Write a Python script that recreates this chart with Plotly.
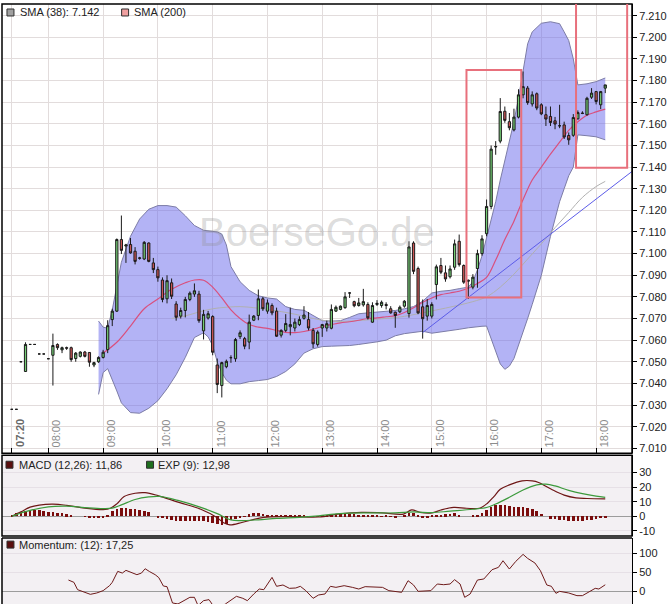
import plotly.graph_objects as go
import pandas as pd

DAY = "2011-05-06"

# ---------------- 5-minute candles, first slot 07:20 ----------------
first_slot = "07:20"
opens = [
    7.028, 7.028, 7.050, 7.0455, 7.058, 7.058, 7.0536, 7.0536,
    7.0514, 7.053, 7.058, 7.0555, 7.0565, 7.0565, 7.0515, 7.0525, 7.0545, 7.0543, 7.0485, 7.0500,
    7.0520, 7.0556, 7.0695, 7.0734, 7.1065, 7.1035, 7.1042, 7.1011, 7.0978, 7.0975, 7.1049, 7.0957,
    7.0926, 7.0878, 7.0791, 7.0865, 7.0767, 7.0711, 7.0737, 7.0788, 7.0813, 7.0813, 7.0643, 7.0702,
    7.0709, 7.0485, 7.0390, 7.0477, 7.0519, 7.0514, 7.0616, 7.0607, 7.0591, 7.0692, 7.0714, 7.0791,
    7.0734, 7.0760, 7.0734, 7.0623, 7.0645, 7.0662, 7.0656, 7.0672, 7.0701, 7.0695, 7.0645, 7.0580,
    7.0656, 7.0656, 7.0655, 7.0734, 7.0742, 7.0750, 7.0818, 7.0778, 7.0760, 7.0763, 7.0765, 7.0683,
    7.0765, 7.0760, 7.0765, 7.0745, 7.0729, 7.0731, 7.0757, 7.0723, 7.1049, 7.0931, 7.0754, 7.0711,
    7.0711, 7.0857, 7.0945, 7.0911, 7.0893, 7.0937, 7.1057, 7.0945, 7.0877, 7.0845, 7.0931, 7.1000,
    7.1092, 7.1218, 7.1493, 7.1520, 7.1658, 7.1610, 7.1572, 7.1631, 7.1734, 7.1765, 7.1692, 7.1739,
    7.1688, 7.1642, 7.1634, 7.1614, 7.1591, 7.1595, 7.1546, 7.1547, 7.1623, 7.1650, 7.1642, 7.1723,
    7.1749, 7.1688, 7.1765,
]
highs = [
    7.028, 7.028, 7.050, 7.059, 7.058, 7.058, 7.0536, 7.0536,
    7.0514, 7.063, 7.0585, 7.057, 7.057, 7.057, 7.0545, 7.0548, 7.0550, 7.0545, 7.0500, 7.0525,
    7.0555, 7.0692, 7.0745, 7.1070, 7.1176, 7.1045, 7.1072, 7.1030, 7.0985, 7.1058, 7.1052, 7.0980,
    7.0940, 7.0890, 7.0900, 7.0885, 7.0780, 7.0750, 7.0800, 7.0825, 7.0862, 7.0828, 7.0740, 7.0735,
    7.0715, 7.0515, 7.0500, 7.0510, 7.0530, 7.0610, 7.0645, 7.0615, 7.0718, 7.0716, 7.0834, 7.0800,
    7.0788, 7.0770, 7.0750, 7.0650, 7.0720, 7.0750, 7.0700, 7.0710, 7.0757, 7.0730, 7.0656, 7.0645,
    7.0675, 7.0690, 7.0765, 7.0760, 7.0760, 7.0822, 7.0820, 7.0782, 7.0795, 7.0837, 7.0775, 7.0775,
    7.0785, 7.0783, 7.0775, 7.0757, 7.0732, 7.0760, 7.0785, 7.1057, 7.1057, 7.0940, 7.0788, 7.0790,
    7.0775, 7.0949, 7.0980, 7.0945, 7.0945, 7.1065, 7.1088, 7.0950, 7.0880, 7.0905, 7.1018, 7.1085,
    7.1250, 7.1500, 7.1520, 7.1719, 7.1680, 7.1650, 7.1670, 7.1760, 7.1842, 7.1775, 7.1750, 7.1745,
    7.1695, 7.1680, 7.1680, 7.1632, 7.1688, 7.1610, 7.1560, 7.1645, 7.1662, 7.1658, 7.1725, 7.1765,
    7.1752, 7.1752, 7.1780,
]
lows = [
    7.028, 7.028, 7.050, 7.0455, 7.058, 7.058, 7.0536, 7.0536,
    7.0514, 7.039, 7.0555, 7.054, 7.0555, 7.050, 7.050, 7.0520, 7.0520, 7.0477, 7.0475, 7.0495,
    7.0515, 7.0540, 7.0665, 7.0730, 7.0998, 7.0957, 7.1000, 7.0950, 7.0972, 7.0970, 7.0960, 7.0910,
    7.0870, 7.0775, 7.0770, 7.0790, 7.0690, 7.0700, 7.0705, 7.0780, 7.0800, 7.0680, 7.0603, 7.0695,
    7.0530, 7.0355, 7.0335, 7.0470, 7.0495, 7.0500, 7.0605, 7.0558, 7.0558, 7.0688, 7.0692, 7.0735,
    7.0722, 7.0715, 7.0615, 7.0612, 7.0637, 7.0622, 7.0640, 7.0665, 7.0695, 7.0645, 7.0563, 7.0570,
    7.0615, 7.0640, 7.0650, 7.0730, 7.0738, 7.0745, 7.0795, 7.0752, 7.0755, 7.0755, 7.0695, 7.0680,
    7.0758, 7.0750, 7.0742, 7.0722, 7.0657, 7.0725, 7.0750, 7.0704, 7.0905, 7.0720, 7.0607, 7.0690,
    7.0700, 7.0788, 7.0905, 7.0870, 7.0885, 7.0925, 7.0940, 7.0860, 7.0790, 7.0835, 7.0842, 7.0990,
    7.1080, 7.1205, 7.1457, 7.1510, 7.1605, 7.1570, 7.1565, 7.1625, 7.1718, 7.1688, 7.1680, 7.1663,
    7.1640, 7.1590, 7.1590, 7.1575, 7.1580, 7.1530, 7.1503, 7.1540, 7.1620, 7.1645, 7.1638, 7.1715,
    7.1690, 7.1668, 7.1742,
]
closes = [
    7.028, 7.028, 7.050, 7.058, 7.058, 7.058, 7.0536, 7.0536,
    7.0514, 7.0575, 7.0565, 7.0565, 7.0563, 7.051, 7.054, 7.0545, 7.0525, 7.0498, 7.0496, 7.0520,
    7.0544, 7.0667, 7.0734, 7.1065, 7.1015, 7.1040, 7.1003, 7.0964, 7.0980, 7.1052, 7.0964, 7.0926,
    7.0888, 7.0788, 7.0875, 7.0803, 7.0706, 7.0737, 7.0788, 7.0817, 7.0828, 7.0690, 7.0719, 7.0722,
    7.0544, 7.0395, 7.0496, 7.0502, 7.0519, 7.0603, 7.0634, 7.0572, 7.0683, 7.0711, 7.0791, 7.0745,
    7.0772, 7.0726, 7.0618, 7.0645, 7.0677, 7.0672, 7.0683, 7.0695, 7.0716, 7.0656, 7.0583, 7.0637,
    7.0672, 7.0676, 7.0742, 7.0752, 7.0757, 7.0800, 7.0818, 7.0759, 7.0772, 7.0778, 7.0703, 7.0760,
    7.0770, 7.0775, 7.0760, 7.0726, 7.0714, 7.0752, 7.0780, 7.1031, 7.0918, 7.0726, 7.0699, 7.0760,
    7.0765, 7.0939, 7.0914, 7.0883, 7.0929, 7.1045, 7.0949, 7.0868, 7.0873, 7.0891, 7.1000, 7.1068,
    7.1218, 7.1483, 7.1495, 7.1657, 7.1616, 7.1582, 7.1631, 7.1734, 7.1772, 7.1698, 7.1734, 7.1673,
    7.1646, 7.1622, 7.1606, 7.1599, 7.1591, 7.1539, 7.1526, 7.1629, 7.1652, 7.1648, 7.1718, 7.1742,
    7.1703, 7.1749, 7.1780,
]
macd_hist = [
    0.3, 2.0, 2.8, 3.4, 3.8, 3.9, 3.8, 3.4,
    3.0, 2.6, 2.3, 1.8, 1.2, 0.8, 0, 0, -0.6, -1.0, -1.2, -1.2,
    -1.0, 0.9, 3.5, 4.5, 5.2, 5.2, 5.0, 4.6, 4.0, 3.2, 2.5, 0,
    -0.8, -1.4, -2.3, -3.0, -3.6, -3.6, -3.4, -3.1, -3.4, -3.7, -3.6, -4.0,
    -4.5, -5.2, -5.9, -5.2, -3.0, -2.3, -1.4, -0.5, 1.1, 2.0, 2.0, 1.6,
    0.9, 0.9, 0.9, 0.5, 0.5, 0.3, 0.2, 0.2, 0.1, -0.3, -0.6, -0.2,
    0.5, 0.8, 1.0, 1.2, 1.2, 1.3, 1.3, 1.2, 1.0, 0.8, 0.3, 0.2,
    0.1, -0.3, 0.1, -0.4, -0.7, 0, 0.5, 2.2, 2.0, 0.5, -0.9, -0.8,
    0.3, 0.5, 0.8, 1.2, 1.6, 2.3, 0.9, 0, 0, 0.5, 0.9, 2.3,
    3.9, 6.1, 7.3, 7.7, 7.3, 6.6, 6.1, 6.1, 6.1, 5.5, 4.5, 3.2,
    1.6, 0, -1.8, -2.3, -2.5, -3.0, -3.6, -3.6, -3.2, -3.2, -2.7, -2.5,
    -1.8, -1.4, -1.4,
]

# ---------------- Bollinger band ----------------
band_times = [
    "08:55", "09:00", "09:05", "09:10", "09:15", "09:20", "09:30", "09:40", "09:50",
    "10:00", "10:10", "10:20", "10:30", "10:40", "10:50", "10:55", "11:00", "11:05",
    "11:10", "11:15", "11:20", "11:30", "11:40", "11:50", "12:00", "12:10", "12:20",
    "12:30", "12:40", "12:50", "13:00", "13:10", "13:20", "13:30", "13:40", "13:50",
    "14:00", "14:10", "14:20", "14:30", "14:40", "14:50", "15:00", "15:10", "15:20",
    "15:30", "15:40", "15:45", "15:50", "15:55", "16:00", "16:05", "16:10", "16:15",
    "16:20", "16:25", "16:30", "16:35", "16:40", "16:45", "16:50", "17:00", "17:10",
    "17:20", "17:25", "17:30", "17:35", "17:40", "17:50", "18:00", "18:10",
]
band_upper = [
    7.0688, 7.0660, 7.0655, 7.0740, 7.0850, 7.0960, 7.1080, 7.1160, 7.1205,
    7.1222, 7.1222, 7.1215, 7.1175, 7.1130, 7.1108, 7.1106, 7.1105, 7.1100,
    7.1090, 7.1040, 7.0940, 7.0870, 7.0830, 7.0805, 7.0795, 7.0790, 7.0755,
    7.0742, 7.0738, 7.0715, 7.0690, 7.0688, 7.0690, 7.0705, 7.0722, 7.0726,
    7.0730, 7.0734, 7.0737, 7.0745, 7.0755, 7.0780, 7.0818, 7.0826, 7.0830,
    7.0838, 7.0845, 7.0870, 7.0925, 7.0990, 7.1070, 7.1160, 7.1240, 7.1340,
    7.1430, 7.1520, 7.1610, 7.1720, 7.1850, 7.1970, 7.2025, 7.2065, 7.2072,
    7.2063, 7.2025, 7.1985, 7.1900, 7.1780, 7.1785, 7.1795, 7.1812,
]
band_lower = [
    7.0349, 7.0450, 7.0468, 7.0420, 7.0365, 7.0310, 7.0265, 7.0262, 7.0285,
    7.0320, 7.0375, 7.0440, 7.0520, 7.0612, 7.0634, 7.0615, 7.0575, 7.0500,
    7.0450, 7.0415, 7.0398, 7.0398, 7.0408, 7.0413, 7.0418, 7.0432, 7.0455,
    7.0490, 7.0540, 7.0560, 7.0570, 7.0572, 7.0572, 7.0575, 7.0580, 7.0585,
    7.0592, 7.0600, 7.0620, 7.0630, 7.0635, 7.0641, 7.0632, 7.0638, 7.0641,
    7.0650, 7.0657, 7.0660, 7.0662, 7.0664, 7.0665, 7.0605, 7.0545, 7.0490,
    7.0465, 7.0480, 7.0515, 7.0575, 7.0630, 7.0700, 7.0765, 7.0900, 7.1080,
    7.1240, 7.1300, 7.1360, 7.1400, 7.1549, 7.1545, 7.1540, 7.1526,
]

# ---------------- moving averages ----------------
mid_times = [
    "09:00", "09:15", "09:30", "09:45", "10:00", "10:15", "10:30", "10:40", "10:50",
    "11:00", "11:10", "11:20", "11:30", "11:40", "11:50", "12:00", "12:10", "12:20",
    "12:30", "12:40", "12:50", "13:00", "13:10", "13:20", "13:30", "13:40", "13:50",
    "14:00", "14:10", "14:20", "14:30", "14:40", "14:50", "15:00", "15:10", "15:20",
    "15:30", "15:40", "15:50", "16:00", "16:10", "16:20", "16:30", "16:40", "16:50",
    "17:00", "17:10", "17:20", "17:30", "17:40", "17:50", "18:00", "18:10",
]
mid_values = [
    7.0540, 7.0590, 7.0665, 7.0745, 7.0790, 7.0835, 7.0865, 7.0878, 7.0877,
    7.0845, 7.0795, 7.0740, 7.0700, 7.0672, 7.0660, 7.0654, 7.0645, 7.0636,
    7.0635, 7.0640, 7.0650, 7.0663, 7.0672, 7.0680, 7.0685, 7.0692, 7.0700,
    7.0703, 7.0708, 7.0713, 7.0728, 7.0750, 7.0775, 7.0795, 7.0810, 7.0818,
    7.0826, 7.0840, 7.0862, 7.0890, 7.0970, 7.1065, 7.1150, 7.1250, 7.1340,
    7.1400, 7.1460, 7.1515, 7.1570, 7.1610, 7.1640, 7.1655, 7.1668,
]
sma38_times = [
    "10:15", "10:30", "10:45", "11:00", "11:15", "11:30", "11:45", "12:00", "12:15",
    "12:30", "12:45", "13:00", "13:15", "13:30", "13:45", "14:00", "14:15", "14:30",
    "14:45", "15:00", "15:15", "15:30", "15:45", "16:00", "16:15", "16:30", "16:45",
    "17:00", "17:15", "17:30", "17:45", "18:00", "18:10",
]
sma38_values = [
    7.0700, 7.0712, 7.0730, 7.0745, 7.0752, 7.0755, 7.0750, 7.0742, 7.0732,
    7.0720, 7.0705, 7.0692, 7.0686, 7.0688, 7.0692, 7.0697, 7.0702, 7.0710,
    7.0722, 7.0735, 7.0748, 7.0762, 7.0778, 7.0800, 7.0845, 7.0905, 7.0975,
    7.1045, 7.1120, 7.1190, 7.1260, 7.1310, 7.1334,
]
trend_times = ["14:50", "18:40"]
trend_values = [7.0635, 7.1382]

# ---------------- MACD ----------------
macd_times = [
    "07:20", "07:30", "07:40", "07:50", "08:05", "08:20", "08:40", "09:00", "09:08",
    "09:15", "09:23", "09:35", "09:46", "10:00", "10:23", "10:47", "11:05", "11:12",
    "11:19", "11:33", "11:56", "12:24", "12:56", "13:19", "13:43", "14:06", "14:29",
    "14:38", "14:47", "15:00", "15:10", "15:24", "15:38", "15:52", "16:01", "16:08",
    "16:15", "16:25", "16:39", "16:50", "16:57", "17:11", "17:25", "17:38", "17:50",
    "18:10",
]
macd_values = [
    0.0, 3.0, 6.3, 7.7, 8.3, 7.5, 5.6, 4.6, 5.5,
    8.5, 13.5, 15.8, 16.2, 14.2, 9.5, 4.8, -1.0, -4.5,
    -5.9, -4.1, -0.7, -0.2, -0.5, 1.6, 2.7, 2.3, 1.5,
    4.4, 2.7, 2.3, 4.3, 6.1, 5.5, 5.5, 9.0, 13.5,
    18.5, 21.5, 24.3, 24.3, 23.2, 18.5, 14.5, 12.6, 12.2,
    11.9,
]
exp_times = [
    "07:20", "07:35", "08:00", "08:20", "08:40", "09:00", "09:10", "09:20", "09:35",
    "09:50", "10:02", "10:23", "10:47", "11:05", "11:20", "11:30", "11:50", "12:10",
    "12:35", "12:56", "13:19", "13:50", "14:20", "14:40", "15:00", "15:20", "15:45",
    "16:00", "16:10", "16:25", "16:40", "16:55", "17:05", "17:15", "17:30", "17:45",
    "18:00", "18:10",
]
exp_values = [
    0.0, 3.2, 6.5, 7.0, 6.0, 5.3, 5.6, 7.8, 11.5,
    13.3, 13.6, 10.7, 6.1, 1.8, -2.5, -3.0, -2.4, -1.4,
    -0.7, 0.3, 1.8, 2.3, 2.3, 3.0, 2.5, 3.5, 4.8,
    6.0, 8.4, 13.0, 18.0, 21.5, 22.0, 20.8, 17.8, 15.5,
    13.8, 13.0,
]

# ---------------- Momentum ----------------
mom_times = [
    "08:22", "08:28", "08:32", "08:39", "08:46", "08:53", "09:00", "09:07", "09:10",
    "09:16", "09:21", "09:25", "09:31", "09:37", "09:42", "09:46", "09:51", "09:57",
    "10:01", "10:06", "10:10", "10:16", "10:22", "10:29", "10:35", "10:40", "10:44",
    "10:50", "10:56", "11:00", "11:07", "11:14", "11:21", "11:26", "11:33", "11:38",
    "11:45", "11:51", "11:56", "12:05", "12:10", "12:17", "12:24", "12:31", "12:36",
    "12:42", "12:50", "12:56", "13:03", "13:09", "13:15", "13:24", "13:33", "13:40",
    "13:47", "13:57", "14:06", "14:13", "14:20", "14:27", "14:34", "14:40", "14:45",
    "14:52", "14:59", "15:06", "15:13", "15:20", "15:25", "15:31", "15:36", "15:42",
    "15:50", "15:57", "16:06", "16:13", "16:18", "16:25", "16:32", "16:40", "16:45",
    "16:53", "16:59", "17:06", "17:11", "17:16", "17:20", "17:30", "17:39", "17:45",
    "17:53", "17:59", "18:03", "18:10",
]
mom_values = [
    29.8, 23.7, 4.4, -2.6, -7.9, -4.4, 1.8, 14.9, 23.7,
    52.6, 48.2, 55.3, 50.0, 43.9, 48.2, 59.6, 51.8, 43.9,
    36.0, 14.0, 12.3, -30.7, -33.3, -24.6, -15.8, -15.8, -37.7,
    -24.6, -21.9, -36.0, -42.0, -33.3, -21.9, -13.2, -18.4, -24.6,
    -7.0, 6.1, 4.4, 36.8, 13.2, 16.7, 7.9, 8.8, 13.2,
    1.8, -18.4, -9.6, -7.0, 13.2, 10.5, 14.9, 10.5, 6.1,
    12.3, 12.3, 10.5, 1.8, -0.9, -2.6, 28.0, 16.7, 0.0,
    1.8, 1.8, 19.3, 17.5, 19.3, 30.7, 19.3, -15.8, -7.0,
    29.8, 32.5, 57.0, 63.2, 80.7, 58.8, 79.0, 97.4, 86.8,
    74.6, 54.4, 16.7, 13.2, -5.3, 0.0, -4.4, -11.4, -11.4,
    -0.9, 7.9, 6.1, 17.3,
]

# ---------------- axes / labels ----------------
hour_ticks = ["07:20", "08:00", "09:00", "10:00", "11:00", "12:00", "13:00",
              "14:00", "15:00", "16:00", "17:00", "18:00"]
price_ticks = [7.010, 7.020, 7.030, 7.040, 7.050, 7.060, 7.070, 7.080, 7.090, 7.100,
               7.110, 7.120, 7.130, 7.140, 7.150, 7.160, 7.170, 7.180, 7.190, 7.200, 7.210]
macd_ticks = [-10, 0, 10, 20, 30]
mom_ticks = [0, 50, 100]


def ts(hhmm):
    return f"{DAY} {hhmm}:00"


def tlist(lst):
    return [ts(t) for t in lst]


slot_times = pd.date_range(ts(first_slot), periods=len(closes), freq="5min")

FONT = "Liberation Sans"
W, H = 667, 605
ML, MR, MT, MB = 2, 33, 4, 0
PW, PH = W - ML - MR, H - MT - MB


def px(x):
    return (x - ML) / PW


def py(y):
    return (H - y) / PH


Y_RANGE = [7.0077, 7.2154]

fig = go.Figure()

# Bollinger band (base layer)
fig.add_trace(go.Scatter(x=tlist(band_times), y=band_lower, mode="lines",
                         line=dict(color="#7c7ca6", width=1), hoverinfo="skip"))
fig.add_trace(go.Scatter(x=tlist(band_times), y=band_upper, mode="lines",
                         line=dict(color="#7c7ca6", width=1), fill="tonexty",
                         fillcolor="rgba(104,104,236,0.5)", hoverinfo="skip"))
# SMA lines
fig.add_trace(go.Scatter(x=tlist(sma38_times), y=sma38_values, mode="lines",
                         line=dict(color="#b0b0b0", width=1), line_shape="spline"))
fig.add_trace(go.Scatter(x=tlist(mid_times), y=mid_values, mode="lines",
                         line=dict(color="#d9507e", width=1.2), line_shape="spline"))
# candles on an overlay axis so they sit above the band
fig.add_trace(go.Candlestick(
    x=slot_times, open=opens, high=highs, low=lows, close=closes,
    increasing=dict(line=dict(color="#1a1a1a", width=1), fillcolor="#74cc74"),
    decreasing=dict(line=dict(color="#1a1a1a", width=1), fillcolor="#cc5555"),
    whiskerwidth=0, xaxis="x", yaxis="y4"))
fig.add_trace(go.Scatter(x=tlist(trend_times), y=trend_values, mode="lines",
                         line=dict(color="#5c5ce8", width=1), xaxis="x", yaxis="y4"))

# MACD panel
fig.add_trace(go.Bar(x=slot_times, y=macd_hist, marker=dict(color="#7a0c0c", line=dict(width=0)),
                     width=170000, xaxis="x2", yaxis="y2"))
fig.add_trace(go.Scatter(x=tlist(macd_times), y=macd_values, mode="lines", line_shape="spline",
                         line=dict(color="#6e1616", width=1.2), xaxis="x2", yaxis="y2"))
fig.add_trace(go.Scatter(x=tlist(exp_times), y=exp_values, mode="lines", line_shape="spline",
                         line=dict(color="#3c9a3c", width=1.2), xaxis="x2", yaxis="y2"))

# Momentum panel
fig.add_trace(go.Scatter(x=tlist(mom_times), y=mom_values, mode="lines",
                         line=dict(color="#6e1a1a", width=1), xaxis="x3", yaxis="y3"))

main_dom = [py(454), 1.0]
macd_dom = [py(537), py(456)]
mom_dom = [0.0, py(539)]

x_range = [f"{DAY} 07:09:14", f"{DAY} 18:39:18"]
grid = "#e2dcdc"
tickfont = dict(family=FONT, size=11, color="#222222")

fig.update_layout(
    width=W, height=H,
    margin=dict(l=ML, r=MR, t=MT, b=MB),
    paper_bgcolor="white", plot_bgcolor="white",
    showlegend=False,
    font=dict(family=FONT, size=11, color="#222222"),
    bargap=0,
    xaxis=dict(type="date", range=x_range, domain=[0, 1], anchor="y",
               tickvals=tlist(hour_ticks), showticklabels=False,
               ticks="inside", ticklen=5, tickcolor="#000000",
               showgrid=True, gridcolor=grid, gridwidth=1, zeroline=False,
               showline=False, rangeslider=dict(visible=False)),
    xaxis2=dict(type="date", matches="x", anchor="y2", domain=[0, 1],
                showticklabels=False, showgrid=False, ticks="", zeroline=False, showline=False),
    xaxis3=dict(type="date", matches="x", anchor="y3", domain=[0, 1],
                showticklabels=False, showgrid=False, ticks="", zeroline=False, showline=False),
    yaxis=dict(domain=main_dom, anchor="x", side="right", range=Y_RANGE,
               tickvals=price_ticks, ticktext=[f"{v:.3f}" for v in price_ticks],
               ticks="outside", ticklen=4, tickcolor="#000000", tickfont=tickfont,
               showline=True, linecolor="#000000", linewidth=1,
               showgrid=True, gridcolor=grid, zeroline=False),
    yaxis4=dict(overlaying="y", anchor="x", side="right", range=Y_RANGE,
                visible=False, showgrid=False, zeroline=False),
    yaxis2=dict(domain=macd_dom, anchor="x2", side="right", range=[-13.6, 41.85],
                tickvals=macd_ticks, ticktext=[str(v) for v in macd_ticks],
                ticks="outside", ticklen=4, tickcolor="#000000", tickfont=tickfont,
                showline=True, linecolor="#000000", linewidth=1,
                showgrid=True, gridcolor="#e6e0e6", zeroline=True,
                zerolinecolor="#9c9c9c", zerolinewidth=1),
    yaxis3=dict(domain=mom_dom, anchor="x3", side="right", range=[-33.4, 140.3],
                tickvals=mom_ticks, ticktext=[str(v) for v in mom_ticks],
                ticks="outside", ticklen=4, tickcolor="#000000", tickfont=tickfont,
                showline=True, linecolor="#000000", linewidth=1,
                showgrid=True, gridcolor="#e6e0e6", zeroline=True,
                zerolinecolor="#9c9c9c", zerolinewidth=1),
)

shapes = []
# panel backgrounds
for dom in (macd_dom, mom_dom):
    shapes.append(dict(type="rect", xref="paper", yref="paper", x0=0, x1=1,
                       y0=dom[0], y1=dom[1], fillcolor="#f3f0f3",
                       line=dict(width=0), layer="below"))
# frames
shapes.append(dict(type="rect", xref="paper", yref="paper", x0=0, x1=1,
                   y0=main_dom[0], y1=main_dom[1], line=dict(color="#000000", width=1.5)))
shapes.append(dict(type="rect", xref="paper", yref="paper", x0=0, x1=1,
                   y0=macd_dom[0], y1=macd_dom[1], line=dict(color="#000000", width=1.5)))
shapes.append(dict(type="line", xref="paper", yref="paper", x0=0, x1=1,
                   y0=mom_dom[1], y1=mom_dom[1], line=dict(color="#000000", width=1.5)))
shapes.append(dict(type="line", xref="paper", yref="paper", x0=0, x1=0,
                   y0=0, y1=mom_dom[1], line=dict(color="#000000", width=1.5)))
# red marker boxes
shapes.append(dict(type="rect", xref="x", yref="y", x0=ts("15:38"), x1=ts("16:38"),
                   y0=7.0797, y1=7.1849, line=dict(color="#e8707c", width=2), layer="above"))
shapes.append(dict(type="rect", xref="x", yref="y", x0=ts("17:38"), x1=ts("18:34"),
                   y0=7.1397, y1=7.2300, line=dict(color="#e8707c", width=2), layer="above"))
# legend squares
legend_sq = [
    (7, 9, "#a0a0a0"), (122, 9, "#f0a0a0"),
    (6, 462, "#5a0f0f"), (147, 462, "#1e6e1e"),
    (7, 542, "#5a0f0f"),
]
for (lx, ly, col) in legend_sq:
    shapes.append(dict(type="rect", xref="paper", yref="paper",
                       x0=px(lx), x1=px(lx + 7), y0=py(ly + 7), y1=py(ly),
                       fillcolor=col, line=dict(color="#303030", width=1)))
fig.update_layout(shapes=shapes)

ann = []
legend_txt = [
    (18, 12.5, "SMA (38): 7.142"), (132, 12.5, "SMA (200)"),
    (17, 465.5, "MACD (12,26): 11,86"), (156, 465.5, "EXP (9): 12,98"),
    (17, 545.5, "Momentum: (12): 17,25"),
]
for (lx, ly, txt) in legend_txt:
    ann.append(dict(x=px(lx), y=py(ly), xref="paper", yref="paper", text=txt,
                    showarrow=False, xanchor="left", yanchor="middle",
                    font=dict(family=FONT, size=11, color="#222222")))
for h in hour_ticks:
    bold = h == "07:20"
    ann.append(dict(x=ts(h), y=7.0096, xref="x", yref="y",
                    text=f"<b>{h}</b>" if bold else h, textangle=-90,
                    showarrow=False, xanchor="left", yanchor="bottom",
                    font=dict(family=FONT, size=11, color="#6a6a6a" if bold else "#8c8c8c")))
ann.append(dict(x=px(318), y=py(232), xref="paper", yref="paper", text="BoerseGo.de",
                showarrow=False, xanchor="center", yanchor="middle",
                font=dict(family=FONT, size=40, color="rgba(140,140,140,0.30)")))
fig.update_layout(annotations=ann)

fig.write_html("out.html",
               config={"displayModeBar": False},
               post_script="document.body.style.margin='0px';"
                           "document.body.style.overflow='hidden';")
